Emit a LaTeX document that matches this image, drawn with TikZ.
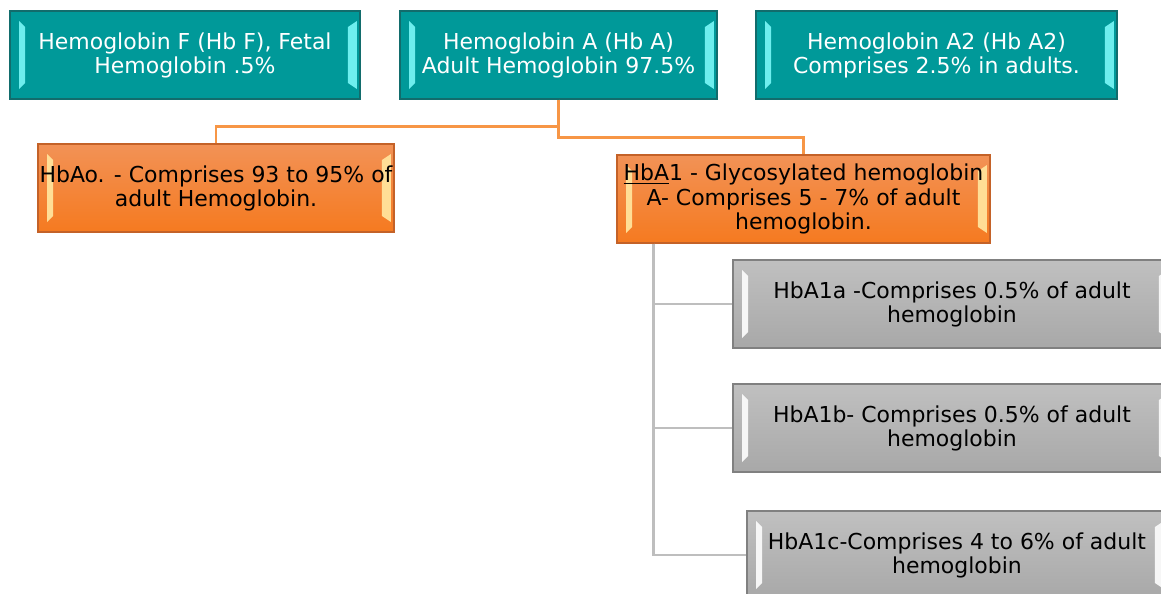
\documentclass[tikz,border=0pt]{standalone}
\usepackage{fontspec}
\setmainfont{DejaVu Sans}
\usetikzlibrary{positioning}
\usetikzlibrary{shadings}
\definecolor{tealfill}{RGB}{0,153,153}
\definecolor{tealedge}{RGB}{18,108,108}
\definecolor{tealglow}{RGB}{110,238,238}
\definecolor{orangetop}{RGB}{242,146,86}
\definecolor{orangebot}{RGB}{245,122,32}
\definecolor{orangeedge}{RGB}{196,98,40}
\definecolor{orangeglow}{RGB}{255,222,150}
\definecolor{orangeline}{RGB}{247,150,70}
\definecolor{graytop}{RGB}{192,192,192}
\definecolor{graybot}{RGB}{168,168,168}
\definecolor{grayedge}{RGB}{128,128,128}
\definecolor{grayglow}{RGB}{246,246,246}
\definecolor{grayline}{RGB}{190,190,190}

\begin{document}
\begin{tikzpicture}[x=0.02cm, y=-0.02cm,
font=\fontsize{12.5}{13.7}\selectfont,
bevel/.style={path picture={
  \fill[#1] ([xshift=0.18cm,yshift=-0.2cm]path picture bounding box.north west) -- ([xshift=0.3cm,yshift=-0.32cm]path picture bounding box.north west) -- ([xshift=0.3cm,yshift=0.32cm]path picture bounding box.south west) -- ([xshift=0.18cm,yshift=0.2cm]path picture bounding box.south west) -- cycle;
  \fill[#1] ([xshift=-0.06cm,yshift=-0.2cm]path picture bounding box.north east) -- ([xshift=-0.24cm,yshift=-0.32cm]path picture bounding box.north east) -- ([xshift=-0.24cm,yshift=0.32cm]path picture bounding box.south east) -- ([xshift=-0.06cm,yshift=0.2cm]path picture bounding box.south east) -- cycle;
}},
box/.style={rectangle, align=center, inner sep=0pt, minimum height=1.76cm, line width=0.8pt},
tealbox/.style={box, fill=tealfill, draw=tealedge, text=white, minimum width=7cm, bevel=tealglow},
orangebox/.style={box, top color=orangetop, bottom color=orangebot, draw=orangeedge, text=black, bevel=orangeglow},
graybox/.style={box, top color=graytop, bottom color=graybot, draw=grayedge, text=black, minimum width=8.76cm, bevel=grayglow},
orangelink/.style={draw=orangeline, line width=1.4pt},
graylink/.style={draw=grayline, line width=1.4pt},
]
\useasboundingbox (0,0) rectangle (1161,593);
\clip (0,0) rectangle (1161,593);
\node[tealbox](hbF) at (185,55){Hemoglobin F (Hb F), Fetal\\Hemoglobin .5\%};
\node[tealbox, minimum width=6.34cm](hbA) at (558.5,55){Hemoglobin A (Hb A)\\Adult Hemoglobin 97.5\%};
\node[tealbox, minimum width=7.22cm](hbAtwo) at (936.5,55){Hemoglobin A2 (Hb A2)\\Comprises 2.5\% in adults.};
\node[orangebox, minimum width=7.12cm](hbAo) at (216,188){HbAo. - Comprises 93 to 95\% of\\adult Hemoglobin.};
\node[orangebox, minimum width=7.46cm](hbAone) at (803.5,199){\underline{HbA}1 - Glycosylated hemoglobin\\A- Comprises 5 - 7\% of adult\\hemoglobin.};
\node[graybox](hbAonea) at (952,304){HbA1a -Comprises 0.5\% of adult\\hemoglobin};
\node[graybox](hbAoneb) at (952,428){HbA1b- Comprises 0.5\% of adult\\hemoglobin};
\node[graybox, minimum width=8.4cm](hbAonec) at (957,555){HbA1c-Comprises 4 to 6\% of adult\\hemoglobin};
\coordinate (spine) at ([xshift=0.74cm]hbAone.south west);
\draw[orangelink] (hbA.south) -- ++(0,27) -| (hbAo.north);
\draw[orangelink] (hbA.south) -- ++(0,38) -| (hbAone.north);
\draw[graylink] (spine) |- (hbAonea.west);
\draw[graylink] (spine) |- (hbAoneb.west);
\draw[graylink] (spine) |- (hbAonec.west);
\end{tikzpicture}
\end{document}
